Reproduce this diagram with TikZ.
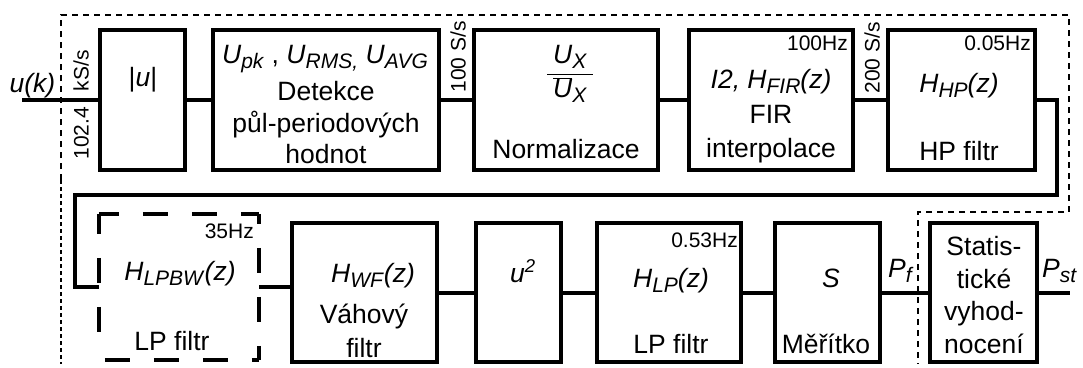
\documentclass[tikz,border=0pt]{standalone}
\usepackage{fontspec}
\setmainfont{Liberation Sans}
% lowered italic index used for the transfer-function and voltage names
\newcommand\sbs[1]{\raisebox{-5pt}{\fontsize{21}{21}\selectfont\textit{#1}}}
\begin{document}
\begin{tikzpicture}[x=1pt,y=-1pt,
  blk/.style={draw,line width=4pt,inner sep=0pt},
  ghost/.style={inner sep=0pt},
  wire/.style={line width=4pt},
  txt/.style={inner sep=0pt,anchor=base,font=\fontsize{26.5}{30}\selectfont},
  sml/.style={inner sep=0pt,anchor=base east,font=\fontsize{21}{24}\selectfont},
  rate/.style={inner sep=0pt,rotate=90,font=\fontsize{21}{24}\selectfont},
  frame/.style={line width=1.7pt,dash pattern=on 6pt off 5pt},
  framefine/.style={line width=1.7pt,dash pattern=on 4pt off 3pt},
  lpdash/.style={line width=4pt,dash pattern=on 25pt off 24pt}]
\useasboundingbox (0,0) rectangle (1083,367);

% ---- signal processing frame
\draw[frame] (61,180) -- (61,15) -- (1069,15) -- (1069,212) -- (918,212) -- (918,364);
\draw[framefine] (61,180) -- (61,364);

% ---- upper row of blocks
\node[blk,minimum width=85pt,minimum height=140pt]  (b1) at (142.5,100) {};
\node[blk,minimum width=226pt,minimum height=140pt] (b2) at (326,100) {};
\node[blk,minimum width=184pt,minimum height=140pt] (b3) at (566,100) {};
\node[blk,minimum width=164pt,minimum height=140pt] (b4) at (771,100) {};
\node[blk,minimum width=147pt,minimum height=140pt] (b5) at (961.5,100) {};

% ---- lower row of blocks
\node[ghost,minimum width=160pt,minimum height=146pt] (lpbw) at (179,287) {};
\draw[lpdash,dash phase=5pt]  (lpbw.north west) -- (lpbw.north east);
\draw[lpdash,dash phase=15pt] (lpbw.north east) -- (lpbw.south east);
\draw[lpdash,dash phase=5pt]  (lpbw.north west) -- ([yshift=8pt]lpbw.south west);
\draw[lpdash,dash phase=43pt] (lpbw.south west) -- (lpbw.south east);
\node[blk,minimum width=145pt,minimum height=139pt] (wf)   at (364.5,292.5) {};
\node[blk,minimum width=85pt,minimum height=139pt]  (usq)  at (518.5,292.5) {};
\node[blk,minimum width=144pt,minimum height=139pt] (lp)   at (669,292.5) {};
\node[blk,minimum width=105pt,minimum height=139pt] (sbox) at (827.5,292.5) {};
\node[blk,minimum width=107pt,minimum height=139pt] (stat) at (983.5,292.5) {};

% ---- connections
\coordinate (in)  at (22,100);
\coordinate (r1)  at (1057,195);
\coordinate (r2)  at (75,195);
\coordinate (out) at (1070,292.5);
\draw[wire] (in) -- (b1.west);
\draw[wire] (b1.east) -- (b2.west);
\draw[wire] (b2.east) -- (b3.west);
\draw[wire] (b3.east) -- (b4.west);
\draw[wire] (b4.east) -- (b5.west);
\draw[wire] (b5.east) -| (r1) -- (r2) |- (lpbw.west);
\draw[wire] (lpbw.east) -- (lpbw.east -| wf.west);
\draw[wire] (wf.east) -- (usq.west);
\draw[wire] (usq.east) -- (lp.west);
\draw[wire] (lp.east) -- (sbox.west);
\draw[wire] (sbox.east) -- (stat.west);
\draw[wire] (stat.east) -- (out);

% ---- signal names and sample rates
\node[txt] (uk) at (32.5,92) {\textit{u(k)}};
\node[rate] (fs1) at (81,105) {102.4\hspace{0.75em}kS/s};
\node[rate] (fs2) at (458,57) {100 S/s};
\node[rate] (fs3) at (872,58) {200 S/s};
\node[txt,anchor=base west] (pf)  at (888,277) {\textit{P}\sbs{f}};
\node[txt,anchor=base west] (pst) at (1042,277) {\textit{P}\sbs{st}};

% ---- block texts, upper row
\node[txt] (t1) at (143,86) {|\textit{u}|};
\node[txt] (t2a) at (325,63) {\textit{U}\sbs{pk} , \textit{U}\sbs{RMS,} \textit{U}\sbs{AVG}};
\node[txt] (t2b) at (326,100) {Detekce};
\node[txt] (t2c) at (326,132) {půl-periodových};
\node[txt] (t2d) at (326,163) {hodnot};
\node[txt] (t3a) at (570,80.5) {$\displaystyle\frac{\hbox{\kern6pt\textit{U}\sbs{X}\kern6pt}}{\overline{\hbox{\textit{U}}}\hbox{\sbs{X}}}$};
\node[txt] (t3b) at (566,158) {Normalizace};
\node[sml] (t4f) at (848,50) {100Hz};
\node[txt] (t4a) at (771,88) {\textit{I2, H}\sbs{FIR}\textit{(z)}};
\node[txt] (t4b) at (771,123) {FIR};
\node[txt] (t4c) at (771,157) {interpolace};
\node[sml] (t5f) at (1031,50) {0.05Hz};
\node[txt] (t5a) at (959,92) {\textit{H}\sbs{HP}\textit{(z)}};
\node[txt] (t5b) at (959,160) {HP filtr};

% ---- block texts, lower row
\node[sml] (t6f) at (254,238) {35Hz};
\node[txt] (t6a) at (180,280) {\textit{H}\sbs{LPBW}\textit{(z)}};
\node[txt] (t6b) at (172,350) {LP filtr};
\node[txt] (t7a) at (373,282) {\textit{H}\sbs{WF}\textit{(z)}};
\node[txt] (t7b) at (364,323) {Váhový};
\node[txt] (t7c) at (364,357) {filtr};
\node[txt] (t8a) at (523,282) {\textit{u}\textsuperscript{\textit{2}}};
\node[sml] (t9f) at (738,247) {0.53Hz};
\node[txt] (t9a) at (671,287) {\textit{H}\sbs{LP}\textit{(z)}};
\node[txt] (t9b) at (671,353) {LP filtr};
\node[txt] (t10a) at (831,287) {\textit{S}};
\node[txt] (t10b) at (826,353) {Měřítko};
\node[txt] (t11a) at (984,255) {Statis-};
\node[txt] (t11b) at (984,288) {tické};
\node[txt] (t11c) at (984,320) {vyhod-};
\node[txt] (t11d) at (984,353) {nocení};
\end{tikzpicture}
\end{document}
